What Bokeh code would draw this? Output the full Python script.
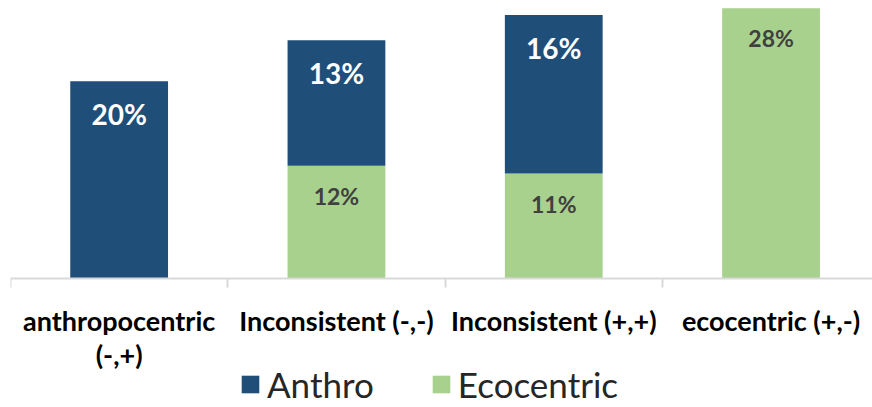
from bokeh.plotting import figure
from bokeh.models import ColumnDataSource, FixedTicker, Range1d, Legend, LegendItem
from bokeh.core.properties import value
from bokeh.embed import file_html
from bokeh.resources import INLINE

categories = ["anthropocentric\n(-,+)", "Inconsistent (-,-)", "Inconsistent (+,+)", "ecocentric (+,-)"]
anthro = [20.3, 12.9, 16.3, 0.0]
eco = [0.0, 11.6, 10.8, 27.8]
series_names = ["Anthro", "Ecocentric"]

BLUE = "#1F4E79"
GREEN = "#A9D18E"
FONT = "Lato"

xs = [i + 0.5 for i in range(len(categories))]
tops = [a + e for a, e in zip(anthro, eco)]

src = ColumnDataSource(dict(x=xs, eco=eco, anthro=anthro, top=tops))

PX = 9.72  # pixels per percentage point
p = figure(frame_width=862, frame_height=407,
           x_range=Range1d(0, 862 / 217.3), y_range=Range1d(-129 / PX, 278 / PX),
           output_backend="svg", toolbar_location=None,
           y_axis_location=None, min_border_left=10, min_border_right=0,
           min_border_top=0, min_border_bottom=0)
p.outline_line_color = None
p.xgrid.visible = False
p.ygrid.visible = False

g = p.vbar(x="x", bottom=0, top="eco", width=0.45, source=src,
           fill_color=GREEN, line_color=None)
b = p.vbar(x="x", bottom="eco", top="top", width=0.45, source=src,
           fill_color=BLUE, line_color=None)

# labels
ax = [x for x, a in zip(xs, anthro) if a > 0]
ay = [t for t, a in zip(tops, anthro) if a > 0]
at = [f"{round(a)}%" for a in anthro if a > 0]
p.text(x=ax, y=ay, text=at, text_align="center", text_baseline="middle",
       y_offset=33, text_color="white", text_font=value(FONT),
       text_font_style="bold", text_font_size="28px")

ex = [x for x, e in zip(xs, eco) if e > 0]
ey = [e for e in eco if e > 0]
et = [f"{round(e)}%" for e in eco if e > 0]
p.text(x=ex, y=ey, text=et, text_align="center", text_baseline="middle",
       y_offset=30, text_color="#404040", text_font=value(FONT),
       text_font_style="bold", text_font_size="23px")

xa = p.xaxis[0]
xa.fixed_location = 0
xa.ticker = FixedTicker(ticks=xs, minor_ticks=[0, 1, 2, 3, 4])
xa.major_label_overrides = {x: c for x, c in zip(xs, categories)}
xa.major_tick_out = 0
xa.major_tick_in = 0
xa.minor_tick_out = 9
xa.minor_tick_in = 0
xa.minor_tick_line_color = "#D9D9D9"
xa.minor_tick_line_width = 2
xa.axis_line_color = "#D9D9D9"
xa.axis_line_width = 2
xa.major_label_standoff = 16
xa.major_label_text_font = FONT
xa.major_label_text_font_style = "bold"
xa.major_label_text_font_size = "27px"
xa.major_label_text_line_height = 1.05
xa.major_label_text_color = "black"

legend = Legend(items=[LegendItem(label=series_names[0], renderers=[b]),
                       LegendItem(label=series_names[1], renderers=[g])],
                orientation="horizontal", location=(229, 2),
                label_text_font=FONT, label_text_font_size="35px",
                label_text_color="#262626", label_height=22,
                glyph_width=22, glyph_height=22, spacing=56, label_standoff=6,
                border_line_color=None, padding=0, margin=0,
                background_fill_alpha=0)
p.add_layout(legend, "center")

open("out.html", "w").write(file_html(p, INLINE))
